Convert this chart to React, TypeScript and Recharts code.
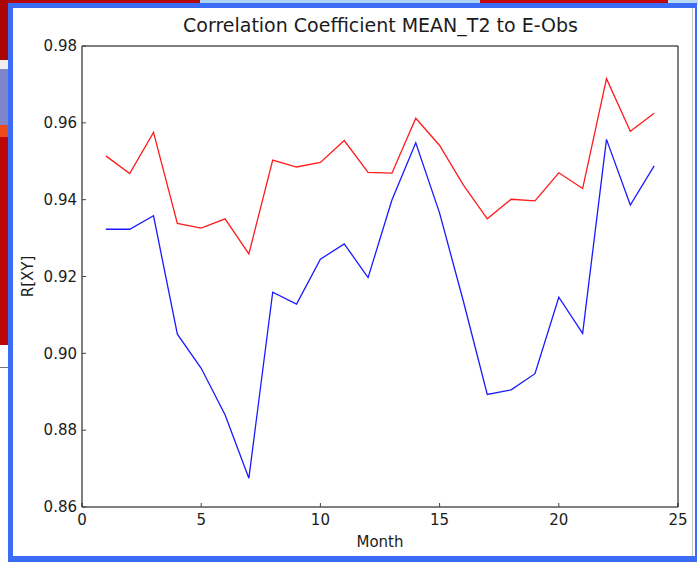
import { CartesianGrid, Line, LineChart, XAxis, YAxis } from "recharts";

const months = [
  1, 2, 3, 4, 5, 6, 7, 8, 9, 10, 11, 12, 13, 14, 15, 16, 17, 18, 19, 20, 21,
  22, 23, 24,
];

const redSeries = [
  0.9514, 0.9468, 0.9575, 0.9338, 0.9326, 0.935, 0.9259, 0.9503, 0.9485,
  0.9497, 0.9554, 0.9471, 0.9469, 0.9612, 0.9541, 0.9438, 0.935, 0.9401,
  0.9397, 0.947, 0.9429, 0.9715, 0.9578, 0.9625,
];

const blueSeries = [
  0.9323, 0.9323, 0.9358, 0.905, 0.8961, 0.884, 0.8675, 0.9159, 0.9128,
  0.9245, 0.9285, 0.9197, 0.9399, 0.9548, 0.9365, 0.9135, 0.8893, 0.8905,
  0.8947, 0.9146, 0.9052, 0.9557, 0.9386, 0.9488,
];

const xTicks = [0, 5, 10, 15, 20, 25];
const yTicks = [0.86, 0.88, 0.9, 0.92, 0.94, 0.96, 0.98];

const rows = months.map((month, i) => ({
  month,
  red: redSeries[i],
  blue: blueSeries[i],
}));

const FONT = "'DejaVu Sans', sans-serif";
const INK = "#1c1c1c";
const tickStyle = { fill: INK, fontSize: 15, fontFamily: FONT };

// desktop behind the window, only thin slivers show
function Backdrop() {
  const box = (s: React.CSSProperties) => (
    <div style={{ position: "absolute", ...s }} />
  );
  return (
    <>
      {box({ left: 0, top: 0, width: 698, height: 562, background: "#ffffff" })}
      {box({ left: 0, top: 0, width: 200, height: 4, background: "#b40a0a" })}
      {box({ left: 200, top: 0, width: 280, height: 4, background: "#a9d3f2" })}
      {box({ left: 480, top: 0, width: 188, height: 4, background: "#c20808" })}
      {box({ left: 668, top: 0, width: 30, height: 4, background: "#b9dcf4" })}
      {box({ left: 0, top: 0, width: 9, height: 60, background: "#a80606" })}
      {box({ left: 0, top: 60, width: 9, height: 9, background: "#eeeeee" })}
      {box({ left: 0, top: 69, width: 9, height: 56, background: "#7d86c9" })}
      {box({ left: 0, top: 125, width: 9, height: 12, background: "#ee4a1a" })}
      {box({ left: 0, top: 137, width: 9, height: 208, background: "#b80808" })}
      {box({ left: 0, top: 367, width: 9, height: 1, background: "#777777" })}
      {/* window frame */}
      {box({
        left: 8,
        top: 3,
        width: 682,
        height: 548,
        background: "#ffffff",
        borderStyle: "solid",
        borderColor: "#3b6cf6",
        borderWidth: "5px 2px 6px 5px",
      })}
      {box({ left: 692, top: 8, width: 1, height: 548, background: "#c8c8c8" })}
    </>
  );
}

export default function App() {
  return (
    <div style={{ position: "absolute", left: 0, top: 0, width: 698, height: 562, overflow: "hidden" }}>
      <Backdrop />
      <div style={{ position: "absolute", left: 0, top: 0 }}>
        <LineChart
          width={698}
          height={562}
          data={rows}
          margin={{ top: 45, right: 19, bottom: 25, left: 22 }}
        >
          <CartesianGrid stroke="none" />
          <XAxis
            xAxisId="b"
            dataKey="month"
            type="number"
            domain={[0, 25]}
            ticks={xTicks}
            height={30}
            tickSize={-4}
            tickMargin={11}
            stroke="#000"
            tickLine={{ stroke: "#444" }}
            tick={tickStyle}
          />
          <XAxis
            xAxisId="t"
            orientation="top"
            dataKey="month"
            type="number"
            domain={[0, 25]}
            ticks={xTicks}
            height={1}
            tickSize={-4}
            stroke="#000"
            tickLine={{ stroke: "#444" }}
            tick={false}
          />
          <YAxis
            yAxisId="l"
            type="number"
            domain={[0.86, 0.98]}
            ticks={yTicks}
            width={60}
            tickSize={-4}
            tickMargin={9}
            stroke="#000"
            tickLine={{ stroke: "#444" }}
            tick={tickStyle}
            tickFormatter={(v: number) => v.toFixed(2)}
          />
          <YAxis
            yAxisId="r"
            orientation="right"
            type="number"
            domain={[0.86, 0.98]}
            ticks={yTicks}
            width={1}
            tickSize={-4}
            stroke="#000"
            tickLine={{ stroke: "#444" }}
            tick={false}
          />
          <Line
            xAxisId="b"
            yAxisId="l"
            dataKey="blue"
            stroke="#1a1aff"
            strokeWidth={1.3}
            dot={false}
            isAnimationActive={false}
          />
          <Line
            xAxisId="b"
            yAxisId="l"
            dataKey="red"
            stroke="#ff1a1a"
            strokeWidth={1.3}
            dot={false}
            isAnimationActive={false}
          />
        </LineChart>
      </div>
      <svg
        width={698}
        height={562}
        style={{ position: "absolute", left: 0, top: 0, pointerEvents: "none" }}
        fontFamily={FONT}
        fill={INK}
      >
        <text x={380.5} y={32} textAnchor="middle" fontSize={19}>
          Correlation Coefficient MEAN_T2 to E-Obs
        </text>
        <text x={380} y={547} textAnchor="middle" fontSize={15}>
          Month
        </text>
        <text
          x={33}
          y={276.5}
          textAnchor="middle"
          fontSize={15}
          transform="rotate(-90 33 276.5)"
        >
          R[XY]
        </text>
      </svg>
    </div>
  );
}
